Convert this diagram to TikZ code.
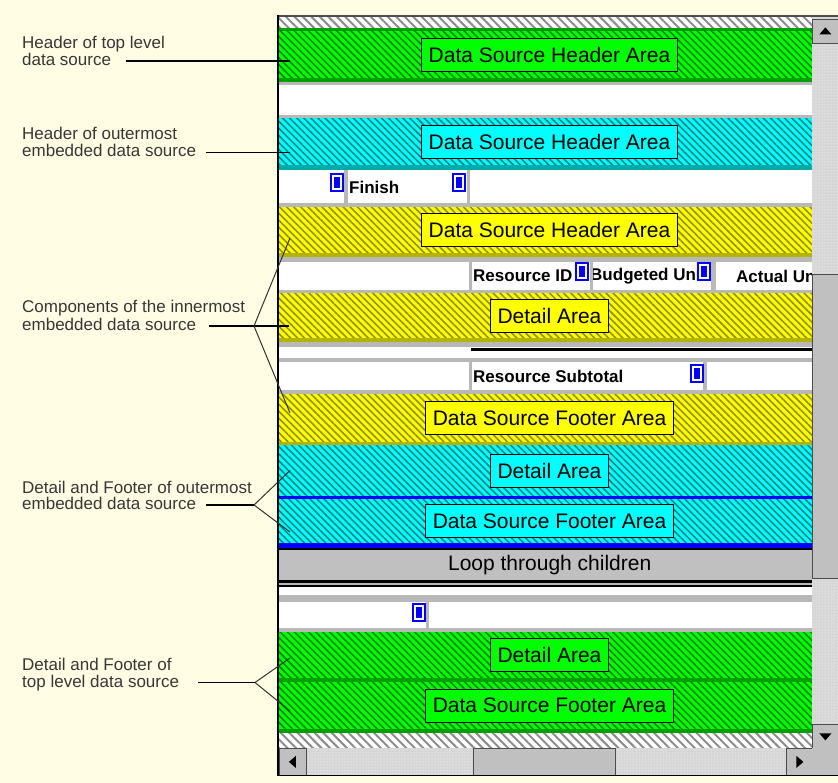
\documentclass[tikz,border=0pt]{standalone}
\usepackage{fontspec}
\setmainfont{Liberation Sans}
\usetikzlibrary{patterns, patterns.meta, positioning}
\definecolor{creambg}{RGB}{255,253,228}
\definecolor{grnfill}{RGB}{0,255,0}
\definecolor{grndark}{RGB}{0,135,0}
\definecolor{grnedge}{RGB}{0,160,0}
\definecolor{cyafill}{RGB}{0,255,255}
\definecolor{cyadark}{RGB}{0,135,135}
\definecolor{cyaedge}{RGB}{0,170,170}
\definecolor{ylwfill}{RGB}{255,255,0}
\definecolor{ylwdark}{RGB}{145,145,0}
\definecolor{ylwedge}{RGB}{180,180,0}
\definecolor{sepgray}{RGB}{184,184,184}
\definecolor{wingray}{RGB}{192,192,192}
\definecolor{trackgray}{RGB}{214,214,214}
\definecolor{iconblue}{RGB}{0,0,255}
\definecolor{labelgray}{RGB}{55,55,55}

\begin{document}
\begin{tikzpicture}[
    x=1pt, y=-1pt,
    band/.style={anchor=north west, minimum width=533pt, inner sep=0pt, outer sep=0pt,
        pattern={Lines[angle=-45, distance=5pt, line width=1.6pt]}},
    grnband/.style={band, preaction={fill=grnfill}, pattern color=grndark},
    cyaband/.style={band, preaction={fill=cyafill}, pattern color=cyadark},
    ylwband/.style={band, preaction={fill=ylwfill}, pattern color=ylwdark},
    stripes/.style={preaction={fill=white}, pattern={Lines[angle=-45, distance=6pt, line width=2pt]}, pattern color=black!45},
    areabox/.style={draw=black, line width=0.8pt, inner xsep=7pt, inner ysep=0pt, minimum height=33pt,
        xshift=4pt, font=\fontsize{21}{21}\selectfont},
    cell/.style={anchor=west, inner sep=0pt, font=\fontsize{17}{17}\selectfont\bfseries},
    icon/.style={anchor=north west, fill=iconblue, minimum width=14pt, minimum height=19pt, inner sep=0pt,
        path picture={\draw[white, line width=1.5pt]
            ([shift={(3pt,-3pt)}]path picture bounding box.north west) rectangle
            ([shift={(-3pt,3pt)}]path picture bounding box.south east);}},
    lbl/.style={anchor=base west, inner sep=0pt, text=labelgray, text height=9pt, text depth=0pt,
        font=\fontsize{17}{17}\selectfont},
    callout/.style={draw=black, line width=1.3pt},
    branch/.style={draw=black!80, line width=1pt},
    sbbtn/.style={anchor=north west, fill=wingray, draw=black!70, line width=0.8pt, inner sep=0pt,
        minimum width=26pt, minimum height=24pt},
]
    % Background and window
    \useasboundingbox (0,0) rectangle (838,783);
    \fill[creambg] (0,0) rectangle (838,783);
    \fill[white] (278,15) rectangle (838,775);
    \path[stripes] (279,17) rectangle (812,28);

    % Top level data source: header
    \fill[grnedge] (279,28) rectangle (812,31);
    \node[grnband, minimum height=47pt] (topHdr) at (279,31) {};
    \fill[grnedge] (279,78) rectangle (812,82);
    % Outermost embedded data source: header
    \node[cyaband, minimum height=47pt] (outHdr) at (279,118) {};
    \fill[cyaedge] (279,165) rectangle (812,170);
    % Innermost embedded data source
    \node[ylwband, minimum height=46pt] (inHdr) at (279,207) {};
    \fill[ylwedge] (279,253) rectangle (812,257);
    \node[ylwband, minimum height=45pt] (inDet) at (279,293) {};
    \fill[ylwedge] (279,338) rectangle (812,342);
    \node[ylwband, minimum height=48pt] (inFtr) at (279,394) {};
    \fill[ylwedge] (279,442) rectangle (812,445);
    % Outermost embedded data source: detail and footer
    \node[cyaband, minimum height=51pt] (outDet) at (279,445) {};
    \fill[iconblue] (279,496) rectangle (812,499);
    \node[cyaband, minimum height=44pt] (outFtr) at (279,499) {};
    \fill[iconblue] (279,543) rectangle (812,548);
    \fill[black] (279,548) rectangle (812,550);
    % Top level data source: detail and footer
    \node[grnband, minimum height=46pt] (topDet) at (279,632) {};
    \fill[grnedge] (279,678) rectangle (812,682);
    \node[grnband, minimum height=47pt] (topFtr) at (279,682) {};
    \fill[grnedge] (279,729) rectangle (812,733);
    \path[stripes] (279,733) rectangle (812,748);

    % Gray rules between sections
    \foreach \ya/\yb in {82/85, 115/118, 203/207, 257/262, 290/293, 342/347, 358/362, 390/394, 583/585, 595/602, 628/632}
        \fill[sepgray] (279,\ya) rectangle (812,\yb);
    \fill[black] (471,348) rectangle (812,351);
    \fill[black] (279,580) rectangle (812,583);
    \fill[black] (279,585) rectangle (812,587);

    % Loop band
    \node[anchor=north west, fill=wingray, minimum width=533pt, minimum height=30pt, inner sep=0pt,
        font=\fontsize{21}{21}\selectfont] (loopBand) at (279,550) {\hspace{8pt}Loop through children};

    % Field cells
    \node[cell] (finish) at (349,187) {Finish};
    \node[cell] (resId) at (473,276) {Resource ID};
    \node[cell] (budUnits) at (590,276) {Budgeted Units};
    \begin{scope}
        \clip (716,262) rectangle (812,290);
        \node[cell] (actUnits) at (736,276) {Actual Un};
    \end{scope}
    \node[cell] (resSub) at (473,376) {Resource Subtotal};

    % Cell separators
    \foreach \xa/\xb/\ya/\yb in {344/348/170/203, 467/470/170/203, 469/472/262/290, 590/593/262/290,
        711/716/262/290, 469/472/362/390, 703/707/362/390, 426/429/602/628}
        \fill[sepgray] (\xa,\ya) rectangle (\xb,\yb);

    % Field icons
    \node[icon] (icoA) at (330,173) {};
    \node[icon] (icoB) at (452,173) {};
    \node[icon] (icoC) at (575,262) {};
    \node[icon] (icoD) at (697,262) {};
    \node[icon] (icoE) at (690,364) {};
    \node[icon] (icoF) at (412,603) {};

    % Area boxes
    \node[areabox, fill=grnfill] (topHdrBox) at (topHdr) {Data Source Header Area};
    \node[areabox, fill=cyafill] (outHdrBox) at (outHdr) {Data Source Header Area};
    \node[areabox, fill=ylwfill] (inHdrBox) at (inHdr) {Data Source Header Area};
    \node[areabox, fill=ylwfill] (inDetBox) at (inDet) {Detail Area};
    \node[areabox, fill=ylwfill] (inFtrBox) at (inFtr) {Data Source Footer Area};
    \node[areabox, fill=cyafill] (outDetBox) at (outDet) {Detail Area};
    \node[areabox, fill=cyafill] (outFtrBox) at (outFtr) {Data Source Footer Area};
    \node[areabox, fill=grnfill] (topDetBox) at (topDet) {Detail Area};
    \node[areabox, fill=grnfill] (topFtrBox) at (topFtr) {Data Source Footer Area};

    % Scroll bars
    \fill[trackgray] (812,17) rectangle (838,748);
    \fill[pattern=dots, pattern color=white] (812,43) rectangle (838,724);
    \fill[trackgray] (279,748) rectangle (812,775);
    \fill[pattern=dots, pattern color=white] (306,748) rectangle (786,775);
    \node[sbbtn] (upBtn) at (812,19) {};
    \node[sbbtn, minimum height=304pt] (vThumb) at (812,274) {};
    \node[sbbtn] (downBtn) at (812,724) {};
    \node[sbbtn, minimum width=27pt, minimum height=27pt] (leftBtn) at (279,748) {};
    \node[sbbtn, minimum width=142pt, minimum height=27pt] (hThumb) at (473,748) {};
    \node[sbbtn, minimum height=27pt] (rightBtn) at (786,748) {};
    \fill[wingray] (812,748) rectangle (838,775);
    \fill (upBtn.center) ++(-6pt,-3pt) -- ++(12pt,0pt) -- ++(-6pt,7pt) -- cycle;
    \fill (downBtn.center) ++(-6pt,3pt) -- ++(12pt,0pt) -- ++(-6pt,-7pt) -- cycle;
    \fill (leftBtn.center) ++(3pt,-6pt) -- ++(0pt,12pt) -- ++(-7pt,-6pt) -- cycle;
    \fill (rightBtn.center) ++(-3pt,-6pt) -- ++(0pt,12pt) -- ++(7pt,-6pt) -- cycle;

    % Window frame
    \draw[black!70, line width=2pt] (277,16) -- (838,16);
    \draw[black, line width=2pt] (278,15) -- (278,776);
    \draw[black, line width=1.5pt] (278,775.5) -- (838,775.5);

    % Labels
    \node[lbl] (hdrTopA) at (22,49) {Header of top level};
    \node[lbl] (hdrTopB) at (22,65.5) {data source};
    \node[lbl] (hdrOutA) at (22,140) {Header of outermost};
    \node[lbl] (hdrOutB) at (22,157) {embedded data source};
    \node[lbl] (innerA) at (22,313) {Components of the innermost};
    \node[lbl] (innerB) at (22,330.5) {embedded data source};
    \node[lbl] (outerA) at (22,493) {Detail and Footer of outermost};
    \node[lbl] (outerB) at (22,509.5) {embedded data source};
    \node[lbl] (topA) at (22,670.5) {Detail and Footer of};
    \node[lbl] (topB) at (22,687) {top level data source};

    % Callouts
    \coordinate (innerFork) at (254,326);
    \coordinate (outerFork) at (254,505);
    \coordinate (topFork) at (255,682.5);
    \draw[callout] ([xshift=15pt]hdrTopB.east) -- ([xshift=11pt]topHdr.west |- hdrTopB.east);
    \draw[callout] ([xshift=10pt]hdrOutB.east) -- ([xshift=11pt]outHdr.west |- hdrOutB.east);
    \draw[callout] ([xshift=13pt]innerB.east) -- ([xshift=10pt]inDet.west |- innerFork);
    \draw[branch] (innerFork) -- ([xshift=11pt, yshift=-8pt]inHdr.west);
    \draw[branch] (innerFork) -- ([xshift=11pt, yshift=5pt]inFtr.west);
    \draw[callout] ([xshift=10pt]outerB.east) -- (outerFork);
    \draw[branch] (outerFork) -- ([xshift=11pt]outDet.west);
    \draw[branch] (outerFork) -- ([xshift=11pt, yshift=-11pt]outFtr.west);
    \draw[callout] ([xshift=19pt]topB.east) -- (topFork);
    \draw[branch] (topFork) -- ([xshift=11pt, yshift=-3pt]topDet.west);
    \draw[branch] (topFork) -- ([xshift=11pt, yshift=-5.5pt]topFtr.west);
\end{tikzpicture}
\end{document}
